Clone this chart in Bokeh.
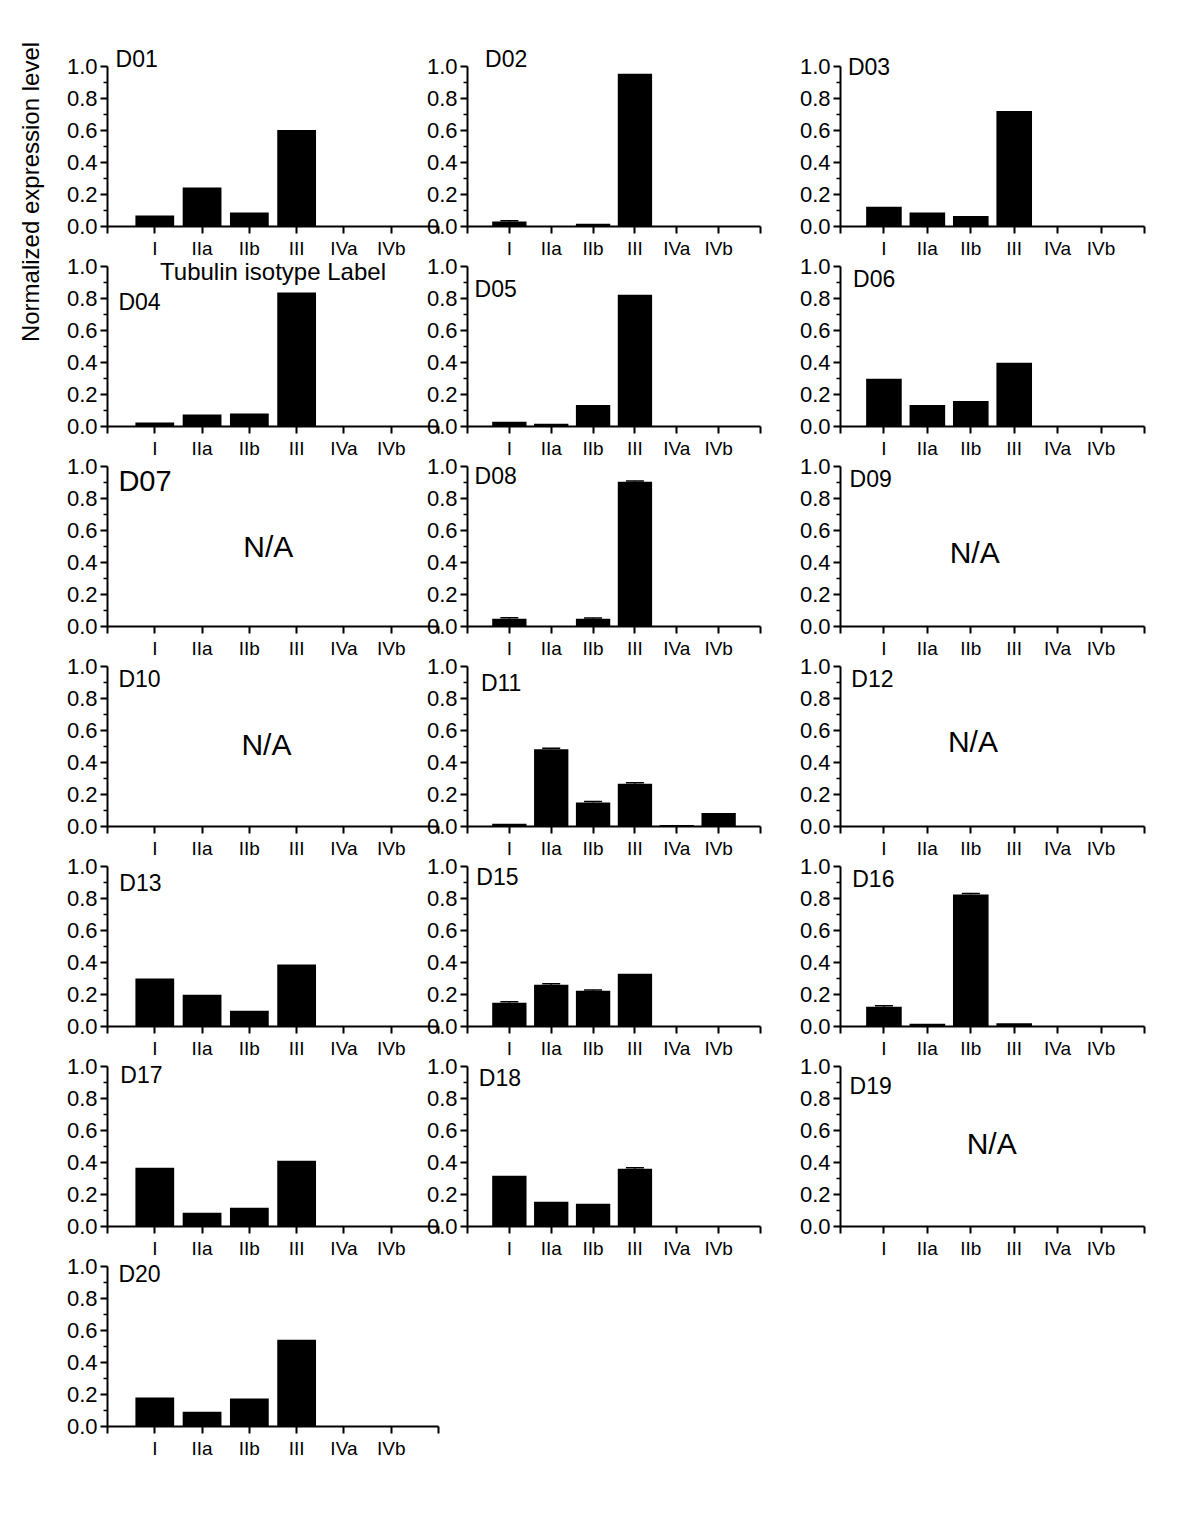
import math
from bokeh.plotting import figure
from bokeh.layouts import row, column
from bokeh.models import (Range1d, FixedTicker, PrintfTickFormatter, Label,
                          Whisker, TeeHead, ColumnDataSource)
from bokeh.embed import file_html
from bokeh.resources import INLINE
from bokeh.core.properties import value

# ---------------- data ----------------
ISOTYPES = ["I", "IIa", "IIb", "III", "IVa", "IVb"]
Y_TICKS = [0.0, 0.2, 0.4, 0.6, 0.8, 1.0]
Y_MINOR = [0.1, 0.3, 0.5, 0.7, 0.9]
Y_LABEL = "Normalized expression level"
X_LABEL = "Tubulin isotype Label"
NA_TEXT = "N/A"

D01 = [0.068, 0.243, 0.087, 0.603, 0.0, 0.0]
D02 = [0.031, 0.0, 0.017, 0.954, 0.0, 0.0]
D03 = [0.124, 0.087, 0.066, 0.722, 0.0, 0.0]
D04 = [0.025, 0.075, 0.081, 0.838, 0.0, 0.0]
D05 = [0.029, 0.017, 0.135, 0.823, 0.0, 0.0]
D06 = [0.298, 0.135, 0.160, 0.398, 0.0, 0.0]
D07 = None
D08 = [0.048, 0.0, 0.048, 0.904, 0.0, 0.0]
D09 = None
D10 = None
D11 = [0.017, 0.483, 0.150, 0.267, 0.010, 0.085]
D12 = None
D13 = [0.300, 0.199, 0.099, 0.388, 0.0, 0.0]
D15 = [0.148, 0.261, 0.223, 0.330, 0.0, 0.0]
D16 = [0.123, 0.017, 0.825, 0.021, 0.0, 0.0]
D17 = [0.367, 0.086, 0.117, 0.411, 0.0, 0.0]
D18 = [0.317, 0.154, 0.142, 0.361, 0.0, 0.0]
D19 = None
D20 = [0.181, 0.092, 0.175, 0.542, 0.0, 0.0]

ERR = {
    "D02": [0.005, 0, 0, 0, 0, 0],
    "D08": [0.006, 0, 0.005, 0.006, 0, 0],
    "D11": [0, 0.006, 0.006, 0.006, 0, 0],
    "D15": [0.006, 0.006, 0.005, 0, 0, 0],
    "D16": [0.006, 0, 0.006, 0, 0, 0],
    "D18": [0, 0, 0, 0.006, 0, 0],
}

DATA = {"D01": D01, "D02": D02, "D03": D03, "D04": D04, "D05": D05,
        "D06": D06, "D07": D07, "D08": D08, "D09": D09, "D10": D10,
        "D11": D11, "D12": D12, "D13": D13, "D15": D15, "D16": D16,
        "D17": D17, "D18": D18, "D19": D19, "D20": D20}

# ---------------- layout / style ----------------
FONT = "Liberation Sans"
# name: (column, row, label x, label y, label size, N/A position)
LAYOUT = {
    "D01": (0, 0, 0.17, 1.044, 23, None),
    "D02": (1, 0, 0.42, 1.044, 23, None),
    "D03": (2, 0, 0.17, 1.0, 23, None),
    "D04": (0, 1, 0.23, 0.78, 23, None),
    "D05": (1, 1, 0.17, 0.86, 23, None),
    "D06": (2, 1, 0.29, 0.92, 23, None),
    "D07": (0, 2, 0.23, 0.91, 29, (3.40, 0.50)),
    "D08": (1, 2, 0.17, 0.94, 23, None),
    "D09": (2, 2, 0.21, 0.925, 23, (3.09, 0.46)),
    "D10": (0, 3, 0.23, 0.925, 23, (3.36, 0.51)),
    "D11": (1, 3, 0.32, 0.90, 23, None),
    "D12": (2, 3, 0.25, 0.925, 23, (3.05, 0.53)),
    "D13": (0, 4, 0.25, 0.894, 23, None),
    "D15": (1, 4, 0.21, 0.9375, 23, None),
    "D16": (2, 4, 0.27, 0.92, 23, None),
    "D17": (0, 5, 0.27, 0.944, 23, None),
    "D18": (1, 5, 0.27, 0.93, 23, None),
    "D19": (2, 5, 0.21, 0.88, 23, (3.48, 0.52)),
    "D20": (0, 6, 0.23, 0.956, 23, None),
}

FRAME_W = [331, 333, 333]
UNIT_H = 160          # pixels for 0..1
Y_TOP = 1.2           # frame extends above 1.0 so labels are not clipped
FRAME_H = int(round(UNIT_H * Y_TOP))
EXTRA = FRAME_H - UNIT_H
LEFT = 59
RIGHT = 10
ROW0_TOP = 66 - EXTRA
BOTTOM = 40
BOTTOM_D01 = 76
PITCH = 200
COL_SHIFT = [0, -40, -29]
X_POS = list(range(1, len(ISOTYPES) + 1))
X_TICKS = list(range(0, len(ISOTYPES) + 2))


def make_panel(name):
    col, r, lx, ly, lsize, na = LAYOUT[name]
    vals = DATA[name]
    top = ROW0_TOP if r == 0 else 0
    bottom = BOTTOM_D01 if name == "D01" else BOTTOM
    prev_bottom = BOTTOM_D01 if (col == 0 and r == 1) else BOTTOM
    if r == 0:
        mtop = 0
    elif r == 1:
        mtop = (66 + PITCH - EXTRA) - (ROW0_TOP + FRAME_H + prev_bottom)
    else:
        mtop = PITCH - FRAME_H - prev_bottom
    p = figure(width=LEFT + FRAME_W[col] + RIGHT, height=top + FRAME_H + bottom,
               x_range=Range1d(0, 7), y_range=Range1d(0, Y_TOP),
               output_backend="svg", toolbar_location=None, title=None,
               min_border_left=LEFT, min_border_right=RIGHT,
               min_border_top=top, min_border_bottom=bottom,
               margin=(mtop, 0, 0, COL_SHIFT[col]))
    p.outline_line_color = None
    p.background_fill_color = None
    p.border_fill_color = None
    p.xgrid.visible = False
    p.ygrid.visible = False

    # bars
    xs = X_POS if vals is not None else []
    tops = vals if vals is not None else []
    src = ColumnDataSource(dict(x=xs, top=tops))
    p.vbar(x="x", top="top", width=0.82, source=src,
           fill_color="black", line_color=None)

    # error bars
    if name in ERR and vals is not None:
        ex = [x for x, e in zip(X_POS, ERR[name]) if e > 0]
        lo = [v for v, e in zip(vals, ERR[name]) if e > 0]
        hi = [v + e for v, e in zip(vals, ERR[name]) if e > 0]
        wsrc = ColumnDataSource(dict(x=ex, lower=lo, upper=hi))
        p.add_layout(Whisker(base="x", lower="lower", upper="upper", source=wsrc,
                             line_width=1.5, line_color="black",
                             upper_head=TeeHead(size=18, line_width=1.5, line_color="black"),
                             lower_head=None))

    # axes
    xa = p.xaxis[0]
    xa.ticker = FixedTicker(ticks=X_TICKS, minor_ticks=[])
    ov = {0: "", len(ISOTYPES) + 1: ""}
    for x, lab in zip(X_POS, ISOTYPES):
        ov[x] = lab
    xa.major_label_overrides = ov
    xa.bounds = (0, 7)
    xa.axis_line_width = 2
    xa.major_tick_line_width = 2
    xa.major_tick_in = 0
    xa.major_tick_out = 7
    xa.major_label_standoff = 4
    xa.major_label_text_font = FONT
    xa.major_label_text_font_size = "19px"
    xa.major_label_text_color = "black"

    ya = p.yaxis[0]
    ya.ticker = FixedTicker(ticks=Y_TICKS, minor_ticks=Y_MINOR)
    ya.formatter = PrintfTickFormatter(format="%.1f")
    ya.bounds = (0, 1)
    ya.axis_line_width = 2
    ya.major_tick_line_width = 2
    ya.minor_tick_line_width = 1.5
    ya.major_tick_in = 0
    ya.major_tick_out = 7
    ya.minor_tick_in = 0
    ya.minor_tick_out = 4
    ya.major_label_standoff = 3
    ya.major_label_text_font = FONT
    ya.major_label_text_font_size = "22px"
    ya.major_label_text_color = "black"

    if name == "D01":
        xa.axis_label = X_LABEL
        xa.axis_label_standoff = -4
        xa.axis_label_text_font = FONT
        xa.axis_label_text_font_size = "24px"
        xa.axis_label_text_font_style = "normal"
        xa.axis_label_text_color = "black"

    p.add_layout(Label(x=lx, y=ly, text=name, text_font=FONT,
                       text_font_size=f"{lsize}px", text_color="black",
                       text_align="left", text_baseline="alphabetic"))
    if na is not None:
        p.add_layout(Label(x=na[0], y=na[1], text=NA_TEXT, text_font=FONT,
                           text_font_size="30px", text_color="black",
                           text_align="center", text_baseline="middle"))
    return p


cols = [[], [], []]
for nm in LAYOUT:
    cols[LAYOUT[nm][0]].append(make_panel(nm))

# y-axis title (spans the first two rows)
YL_H = 360
yl = figure(width=48, height=YL_H, x_range=Range1d(0, 48), y_range=Range1d(0, YL_H),
            output_backend="svg", toolbar_location=None, title=None,
            min_border=0, x_axis_type=None, y_axis_type=None)
yl.outline_line_color = None
yl.background_fill_color = None
yl.border_fill_color = None
yl.text(x=[30], y=[YL_H - 191.5], text=[Y_LABEL], angle=math.pi / 2,
        text_align="center", text_baseline="middle",
        text_font=value(FONT), text_font_size="24px", text_color="black")

layout = row(yl, column(*cols[0]), column(*cols[1]), column(*cols[2]))

open("out.html", "w").write(file_html(layout, INLINE))
